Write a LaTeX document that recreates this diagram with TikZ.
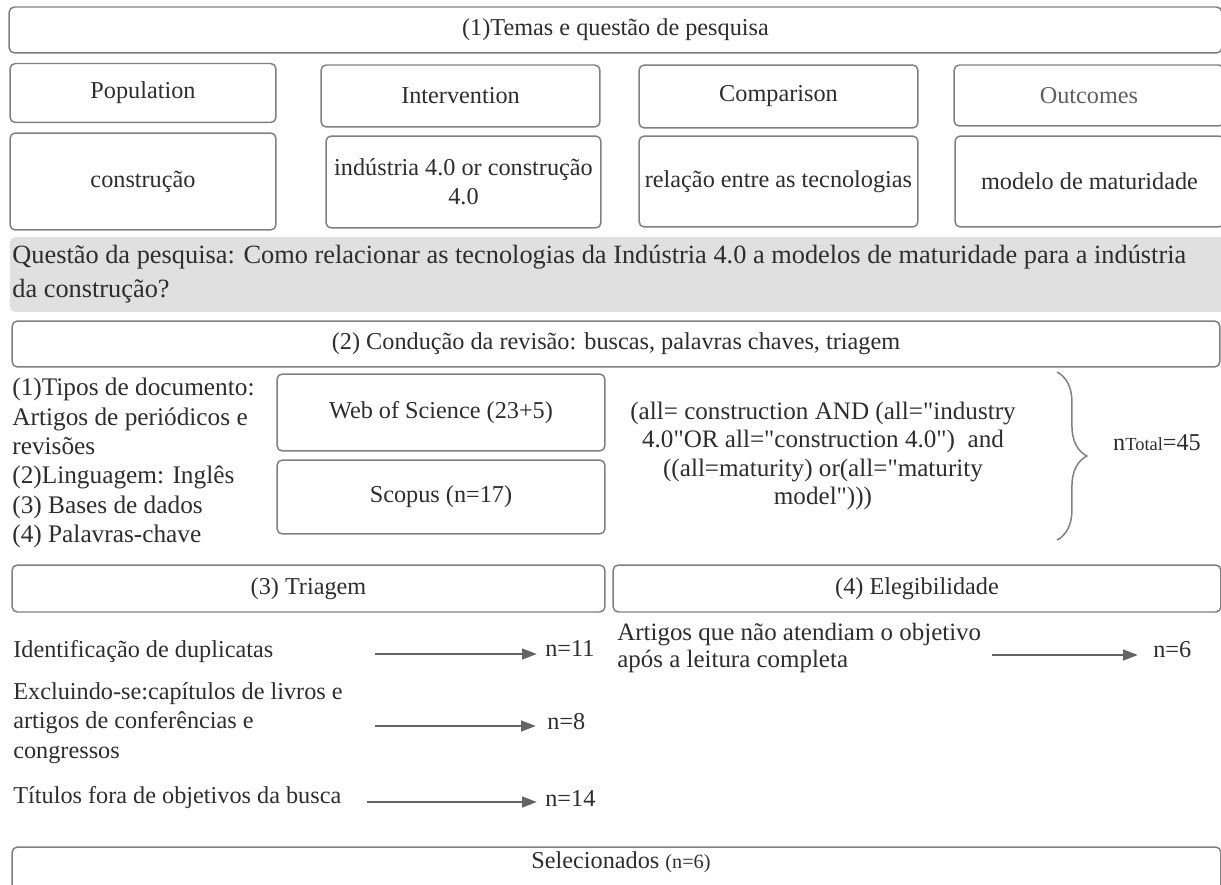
\documentclass[tikz,border=0pt]{standalone}
\usepackage{fontspec}
\setmainfont{Liberation Serif}[Ligatures=TeXOff]
\usepackage{tikz}
\usetikzlibrary{arrows.meta, decorations.pathreplacing, positioning}
\definecolor{Borda}{RGB}{128,128,128}
\definecolor{Seta}{RGB}{100,100,100}
\definecolor{Cinza}{RGB}{224,224,224}
\definecolor{Texto}{RGB}{45,45,45}
\definecolor{TextoClaro}{RGB}{95,95,95}

\begin{document}
\begin{tikzpicture}[x=0.02cm, y=-0.02cm,
	caixa/.style={draw=Borda, line width=0.85pt, rounded corners=3pt, fill=white, inner sep=0pt, align=center, text=Texto, font=\fontsize{13.8}{16.5}\selectfont},
	texto/.style={inner sep=0pt, align=left, text=Texto, font=\fontsize{13.8}{16.7}\selectfont},
	seta/.style={-{Triangle[length=8.5pt, width=6pt]}, line width=1.5pt, draw=Seta}]
		\useasboundingbox (0,0) rectangle (1221,885);
		\clip (0,0) rectangle (1221,885);
		
		% (1) 标题与 PICO
		\node[caixa, minimum width=24.26cm, minimum height=0.92cm] (temas) at (615.5,30) {(1)Temas e questão de pesquisa};
		\node[caixa, minimum width=5.32cm, minimum height=1.18cm] (pop) at (143,93) {Population};
		\node[caixa, minimum width=5.58cm, minimum height=1.24cm] (interv) at (460.5,96) {Intervention};
		\node[caixa, minimum width=5.58cm, minimum height=1.26cm] (comp) at (778.5,96.5) {Comparison};
		\node[caixa, minimum width=5.40cm, minimum height=1.22cm, text=TextoClaro] (outc) at (1089,95.5) {Outcomes};
		\node[caixa, minimum width=5.32cm, minimum height=1.94cm] (constr) at (143,181.5) {construção};
		\node[caixa, minimum width=5.50cm, minimum height=1.84cm] (ind) at (463.5,182) {indústria 4.0 or construção\\4.0};
		\node[caixa, minimum width=5.58cm, minimum height=1.82cm] (rel) at (778.5,181.5) {relação entre as tecnologias};
		\node[caixa, minimum width=5.38cm, minimum height=1.82cm] (modelo) at (1089.5,181.5) {modelo de maturidade};
		
		% 问题
		\fill[Cinza, rounded corners=3pt] (10,237) rectangle (1226,312);
		\node[texto, anchor=north west, font=\fontsize{15}{19.5}\selectfont] (questao) at (12,245)
			{Questão da pesquisa: Como relacionar as tecnologias da Indústria 4.0 a modelos de maturidade para a indústria\\da construção?};
		
		% (2) 检索
		\node[caixa, minimum width=24.16cm, minimum height=0.92cm] (conducao) at (616,344) {(2) Condução da revisão: buscas, palavras chaves, triagem};
		\node[texto, anchor=north west, font=\fontsize{14.4}{16.7}\selectfont] (criterios) at (12,378)
			{(1)Tipos de documento:\\Artigos de periódicos e\\revisões\\(2)Linguagem: Inglês\\(3) Bases de dados\\(4) Palavras-chave};
		\node[caixa, minimum width=6.56cm, minimum height=1.54cm] (wos) at (441,412.5) {Web of Science (23+5)};
		\node[caixa, minimum width=6.56cm, minimum height=1.48cm] (scopus) at (441,497) {Scopus (n=17)};
		\node[texto, align=center, font=\fontsize{14.3}{16.2}\selectfont] (busca) at (823,456)
			{(all= construction AND (all="industry\\4.0"OR all="construction 4.0")\ \ and\\((all=maturity) or(all="maturity\\model")))};
		\draw[Borda, line width=0.85pt, decorate, decoration={brace, amplitude=17pt}] (1057,372) -- (1057,540);
		\node[texto] (total) at (1157,443) {n{\fontsize{10.5}{12}\selectfont Total}=45};
		
		% (3) 筛选 (4) 合格性
		\node[caixa, minimum width=11.86cm, minimum height=0.94cm] (triagem) at (308.5,588.5) {(3) Triagem};
		\node[caixa, minimum width=12.16cm, minimum height=0.94cm] (elegib) at (917,588.5) {(4) Elegibilidade};
		
		\node[texto, anchor=west] (dup) at (13,652) {Identificação de duplicatas};
		\node[texto, anchor=west] (excl) at (13,723) {Excluindo-se:capítulos de livros e\\artigos de conferências e\\congressos};
		\node[texto, anchor=west] (tit) at (13,798) {Títulos fora de objetivos da busca};
		\node[texto, anchor=west] (n11) at (545,648) {n=11};
		\node[texto, anchor=west] (n8) at (547,722) {n=8};
		\node[texto, anchor=west] (n14) at (545,798) {n=14};
		\coordinate (s1) at (375,654);
		\coordinate (s2) at (375,726);
		\coordinate (s3) at (367,802);
		\draw[seta] (s1) -- (s1 -| 537,0);
		\draw[seta] (s2) -- (s2 -| 536,0);
		\draw[seta] (s3) -- (s3 -| 537,0);
		
		\node[texto, anchor=west, font=\fontsize{14.2}{15.3}\selectfont] (artigos) at (617,648) {Artigos que não atendiam o objetivo\\após a leitura completa};
		\node[texto, anchor=west] (n6) at (1153,650) {n=6};
		\coordinate (s4) at (992,655);
		\draw[seta] (s4) -- (s4 -| 1138,0);
		
		% 结果
		\node[caixa, minimum width=24.18cm, minimum height=1.06cm] (selec) at (616.5,873.5) {};
		\node[texto] (seltxt) at (621,862) {Selecionados {\fontsize{11.5}{13}\selectfont (n=6)}};
	\end{tikzpicture}
\end{document}
